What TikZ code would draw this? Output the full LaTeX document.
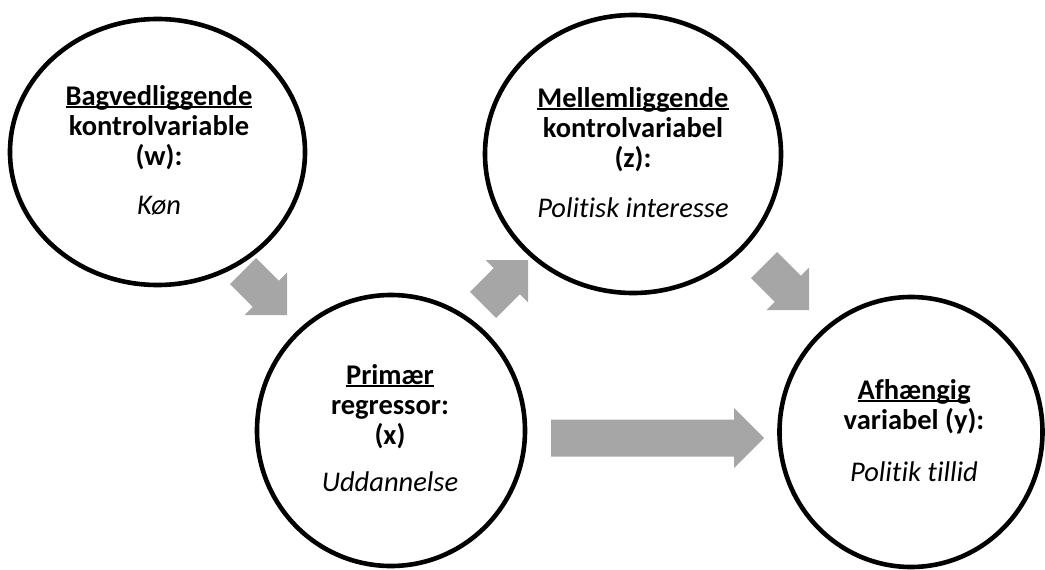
\documentclass[tikz,border=0pt]{standalone}
\usepackage{fontspec}
\setmainfont{Carlito}[Ligatures=NoCommon]
\usetikzlibrary{calc,shapes.geometric}
\definecolor{arrowgray}{RGB}{166,166,166}
\newcommand\myul[1]{\setbox0\hbox{#1}\rlap{\rule[-3pt]{\wd0}{2pt}}\box0}
\newcommand\blockarrow[2]{%
  \coordinate (ba-h) at ($(#2)!30pt!(#1)$);
  \fill[arrowfill] ($(#1)!18.5pt!90:(#2)$) -- ($(ba-h)!18.5pt!-90:(#1)$)
    -- ($(ba-h)!30pt!-90:(#1)$) -- (#2) -- ($(ba-h)!30pt!90:(#1)$)
    -- ($(ba-h)!18.5pt!90:(#1)$) -- ($(#1)!18.5pt!-90:(#2)$) -- cycle;}
\tikzset{
  varcircle/.style={ellipse, draw=black, line width=4.6pt, fill=white, inner sep=0pt, outer sep=0pt},
  vartext/.style={text width=320pt, align=flush center, anchor=base, inner sep=0pt,
    font=\fontsize{28.5}{30}\selectfont},
  arrowfill/.style={fill=arrowgray},
}
\begin{document}
\begin{tikzpicture}[x=1pt,y=-1pt]
\useasboundingbox (0,0) rectangle (1045,570);
% circles
\node[varcircle, minimum width=295pt, minimum height=266pt] (w) at (157.5,152) {};
\node[varcircle, minimum width=296pt, minimum height=278pt] (z) at (633,154) {};
\node[varcircle, minimum width=268pt, minimum height=271pt] (x) at (391,430.5) {};
\node[varcircle, minimum width=263pt, minimum height=270pt] (y) at (911,432) {};
% texts
\node[vartext] (wt) at (159,105) {\textbf{\myul{Bagvedliggende}}\\\textbf{kontrolvariable}\\\textbf{(w):}\\[19pt]\textit{Køn}};
\node[vartext] (zt) at (633,107) {\textbf{\myul{Mellemliggende}}\\\textbf{kontrolvariabel}\\\textbf{(z):}\\[20pt]\textit{Politisk interesse}};
\node[vartext] (xt) at (390,384) {\textbf{\myul{Primær}}\\\textbf{regressor:}\\\textbf{(x)}\\[17pt]\textit{Uddannelse}};
\node[vartext] (yt) at (914,399) {\textbf{\myul{Afhængig}}\\\textbf{variabel (y):}\\[22pt]\textit{Politik tillid}};
% arrows
\coordinate (a1s) at (243,271);
\coordinate (a1e) at (287,315);
\coordinate (a2s) at (483,305);
\coordinate (a2e) at (528,260);
\coordinate (a3s) at (764,265);
\coordinate (a3e) at (809,310);
\coordinate (a4s) at (551,438);
\coordinate (a4e) at (764,438);
\blockarrow{a1s}{a1e}
\blockarrow{a2s}{a2e}
\blockarrow{a3s}{a3e}
\blockarrow{a4s}{a4e}
\end{tikzpicture}
\end{document}
